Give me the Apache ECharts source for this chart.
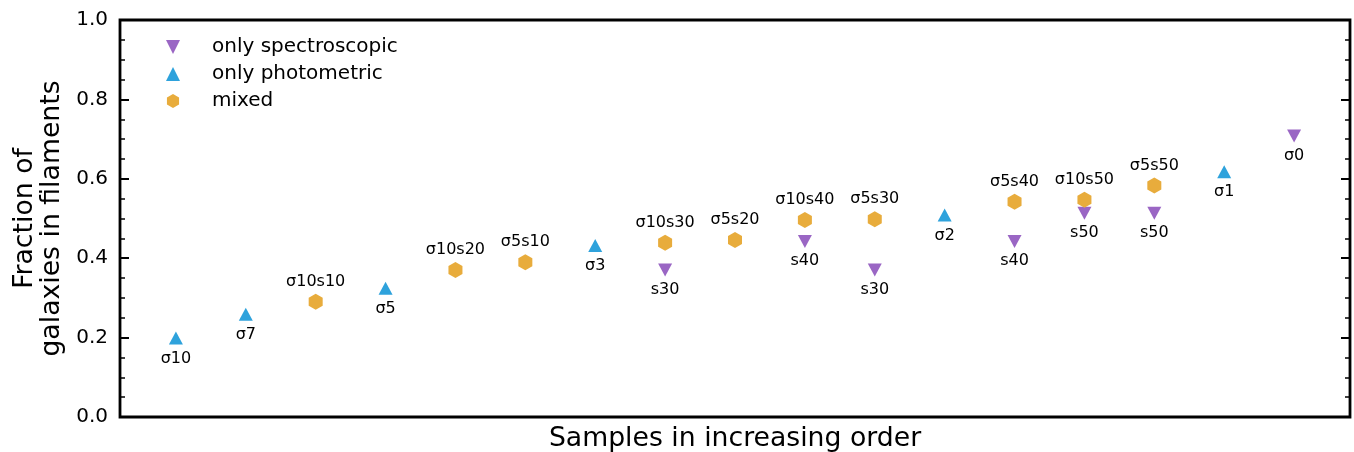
<!DOCTYPE html>
<html>
<head>
<meta charset="utf-8">
<script src="https://cdn.jsdelivr.net/npm/echarts@6/dist/echarts.min.js"></script>
<style>
  html, body { margin: 0; padding: 0; background: #fff; }
  #chart { width: 1354px; height: 452px; }
</style>
</head>
<body>
<div id="chart"></div>
<script>
// sample positions along the x axis (0..16) and fractions
const spectroX = [7, 9, 10, 12, 13, 14, 16];
const spectroY = [0.370, 0.442, 0.370, 0.442, 0.513, 0.513, 0.708];
const spectroNames = ['s30', 's40', 's30', 's40', 's50', 's50', 'σ0'];

const photoX = [0, 1, 3, 6, 11, 15];
const photoY = [0.199, 0.259, 0.324, 0.432, 0.509, 0.618];
const photoNames = ['σ10', 'σ7', 'σ5', 'σ3', 'σ2', 'σ1'];

const mixedX = [2, 4, 5, 7, 8, 9, 10, 12, 13, 14];
const mixedY = [0.290, 0.370, 0.390, 0.439, 0.446, 0.496, 0.498, 0.542, 0.547, 0.583];
const mixedNames = ['σ10s10', 'σ10s20', 'σ5s10', 'σ10s30', 'σ5s20', 'σ10s40', 'σ5s30', 'σ5s40', 'σ10s50', 'σ5s50'];

const yTicks = [0, 0.2, 0.4, 0.6, 0.8, 1.0];

const FONT = 'DejaVu Sans';
const triDown = 'path://M0,0L2,0L1,2Z';
const triUp = 'path://M1,0L2,2L0,2Z';
const hexagon = 'path://M0.866,0L1.732,0.5L1.732,1.5L0.866,2L0,1.5L0,0.5Z';

function pairs(xs, ys, names) {
  return xs.map(function (x, i) { return { value: [x, ys[i]], name: names[i] }; });
}

let myChart = echarts.init(document.getElementById('chart'));

// y axis shared settings (left one has labels, right one only ticks)
function yAxisCfg(pos, showLabel) {
  return {
    type: 'value',
    position: pos,
    min: yTicks[0],
    max: yTicks[yTicks.length - 1],
    interval: 0.2,
    axisLine: { show: false, onZero: false },
    axisTick: { show: true, inside: true, length: 9, lineStyle: { color: '#000', width: 2 } },
    minorTick: { show: true, splitNumber: 4, length: 5, lineStyle: { color: '#000', width: 1.5 } },
    splitLine: { show: false },
    axisLabel: {
      show: showLabel,
      margin: 12,
      color: '#000',
      fontSize: 20,
      fontFamily: FONT,
      formatter: function (v) { return v.toFixed(1); }
    }
  };
}

function labelCfg(pos, dist) {
  return {
    show: true, position: pos, distance: dist,
    formatter: '{b}', color: '#000', fontSize: 16, fontFamily: FONT
  };
}

let option = {
  animation: false,
  backgroundColor: '#fff',
  textStyle: { fontFamily: FONT },
  grid: {
    left: 120, right: 4, top: 20, bottom: 35,
    outerBoundsMode: 'none',
    containLabel: false,
    show: true,
    borderColor: '#000',
    borderWidth: 2.8,
    backgroundColor: 'transparent'
  },
  legend: {
    orient: 'vertical',
    left: 161,
    top: 32,
    itemWidth: 68,
    itemHeight: 14,
    itemGap: 7,
    symbolKeepAspect: true,
    textStyle: { fontSize: 20, fontFamily: FONT, color: '#000', lineHeight: 20 },
    data: [
      { name: 'only spectroscopic', icon: triDown },
      { name: 'only photometric', icon: triUp },
      { name: 'mixed', icon: hexagon }
    ]
  },
  xAxis: {
    type: 'value',
    min: -0.8,
    max: 16.8,
    name: 'Samples in increasing order',
    nameLocation: 'middle',
    nameGap: 9,
    nameTextStyle: { fontSize: 26.7, fontFamily: FONT, color: '#000' },
    axisLine: { show: false, onZero: false },
    axisTick: { show: false },
    axisLabel: { show: false },
    splitLine: { show: false }
  },
  yAxis: [
    Object.assign(yAxisCfg('left', true), {
      name: 'Fraction of\ngalaxies in filaments',
      nameLocation: 'middle',
      nameRotate: 90,
      nameGap: 43,
      nameTextStyle: { fontSize: 26.7, fontFamily: FONT, color: '#000', lineHeight: 27 }
    }),
    yAxisCfg('right', false)
  ],
  series: [
    {
      name: 'only spectroscopic',
      type: 'scatter',
      symbol: triDown,
      symbolSize: [14, 13],
      itemStyle: { color: '#9a66c4', opacity: 1 },
      label: labelCfg('bottom', 5),
      data: pairs(spectroX, spectroY, spectroNames)
    },
    {
      name: 'only photometric',
      type: 'scatter',
      symbol: triUp,
      symbolSize: [14, 13],
      itemStyle: { color: '#2ea2dc', opacity: 1 },
      label: labelCfg('bottom', 6),
      data: pairs(photoX, photoY, photoNames)
    },
    {
      name: 'mixed',
      type: 'scatter',
      symbol: hexagon,
      symbolSize: [14, 16],
      itemStyle: { color: '#e8ac3c', opacity: 1 },
      label: labelCfg('top', 4),
      data: pairs(mixedX, mixedY, mixedNames)
    }
  ]
};

myChart.setOption(option);
</script>
</body>
</html>
